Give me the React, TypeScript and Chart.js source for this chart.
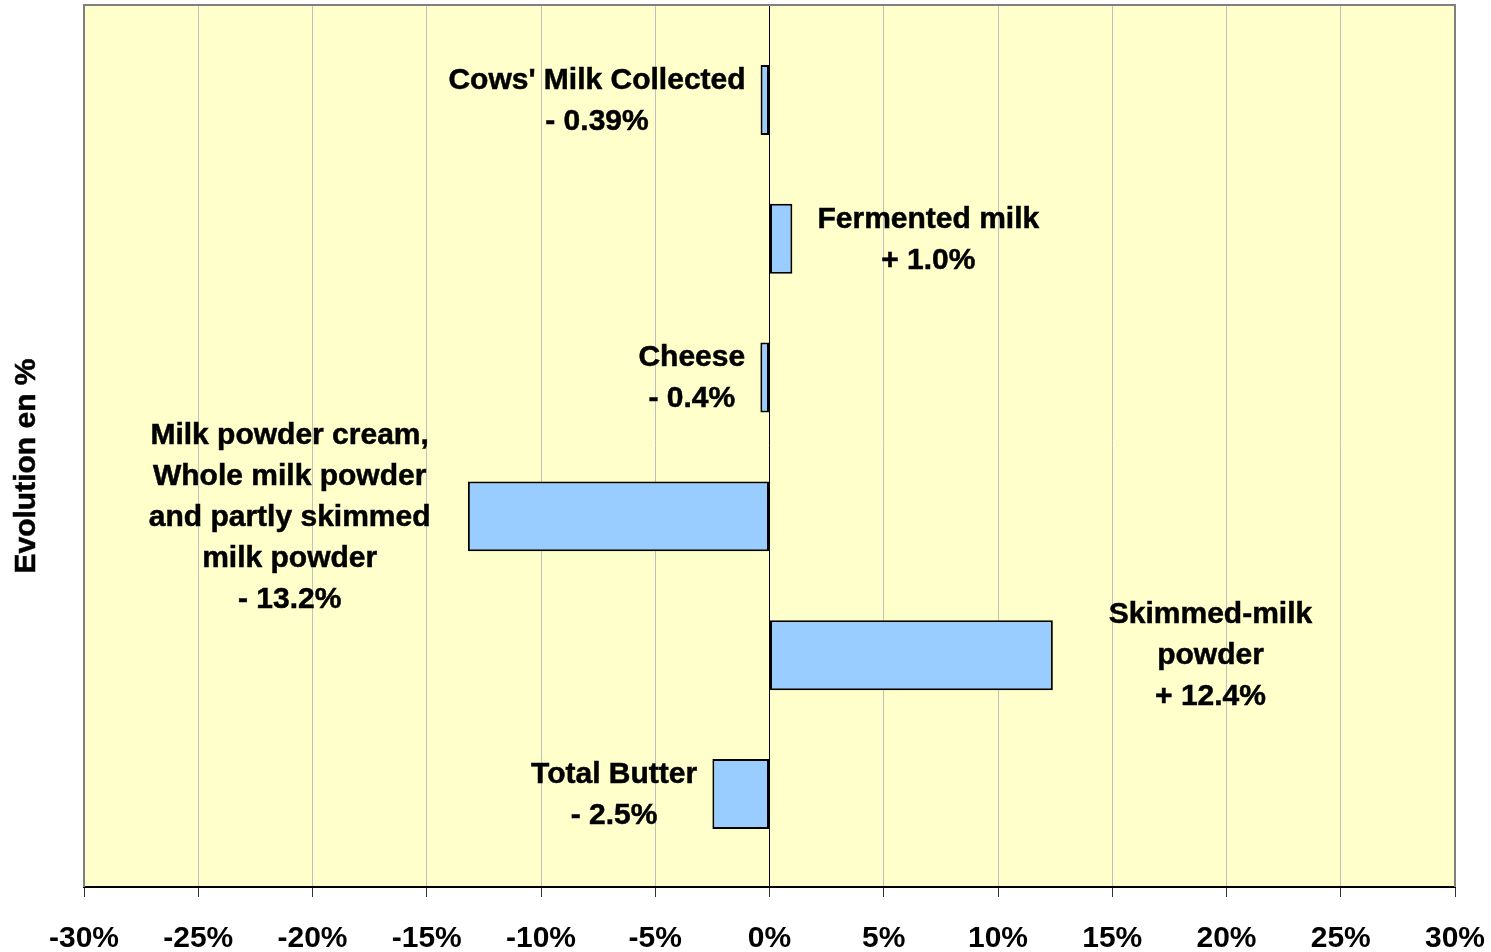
import React, { useEffect, useRef } from "react";
import { Chart, registerables } from "chart.js";

Chart.register(...registerables);

const categories = [
  "Cows' Milk Collected",
  "Fermented milk",
  "Cheese",
  "Milk powder cream, Whole milk powder and partly skimmed milk powder",
  "Skimmed-milk powder",
  "Total Butter",
];
const values = [-0.39, 1.0, -0.4, -13.2, 12.4, -2.5];
const labelLines = [
  ["Cows' Milk Collected", "- 0.39%"],
  ["Fermented milk", "+ 1.0%"],
  ["Cheese", "- 0.4%"],
  ["Milk powder cream,", "Whole milk powder", "and partly skimmed", "milk powder", "- 13.2%"],
  ["Skimmed-milk", "powder", "+ 12.4%"],
  ["Total Butter", "- 2.5%"],
];
// label block centre, in axis % units
const labelX = [-7.55, 6.95, -3.4, -21.0, 19.3, -6.8];
const tickValues = [-30, -25, -20, -15, -10, -5, 0, 5, 10, 15, 20, 25, 30];
const axisTitle = "Evolution en %";

const FONT = "'Liberation Sans', Arial, sans-serif";

export default function App() {
  const ref = useRef<HTMLCanvasElement | null>(null);

  useEffect(() => {
    document.body.style.margin = "0";
    const canvas = ref.current!;
    const bgPlugin = {
      id: "bgPlugin",
      beforeDraw(chart: any) {
        const { ctx, chartArea } = chart;
        ctx.save();
        ctx.fillStyle = "#FFFFCC";
        ctx.fillRect(chartArea.left, chartArea.top, chartArea.right - chartArea.left, chartArea.bottom - chartArea.top);
        ctx.restore();
      },
      afterDatasetsDraw(chart: any) {
        const { ctx, chartArea, scales } = chart;
        const xs = scales.x;
        const ys = scales.y;
        ctx.save();
        // plot border (top, left, right)
        ctx.strokeStyle = "#808080";
        ctx.lineWidth = 2;
        ctx.beginPath();
        ctx.moveTo(chartArea.left, chartArea.bottom);
        ctx.lineTo(chartArea.left, chartArea.top);
        ctx.lineTo(chartArea.right, chartArea.top);
        ctx.lineTo(chartArea.right, chartArea.bottom);
        ctx.stroke();
        // labels
        ctx.fillStyle = "#000";
        ctx.strokeStyle = "#000";
        ctx.lineWidth = 0.5;
        ctx.font = `bold 30px ${FONT}`;
        ctx.textAlign = "center";
        ctx.textBaseline = "middle";
        const lh = 41;
        labelLines.forEach((lines, i) => {
          const cx = xs.getPixelForValue(labelX[i]);
          const cy = ys.getPixelForValue(i);
          const start = cy - ((lines.length - 1) * lh) / 2;
          lines.forEach((t, j) => {
            ctx.fillText(t, cx, start + j * lh + 1);
            ctx.strokeText(t, cx, start + j * lh + 1);
          });
        });
        // axis title
        ctx.translate(27, 466);
        ctx.rotate(-Math.PI / 2);
        ctx.fillText(axisTitle, 0, 0);
        ctx.strokeText(axisTitle, 0, 0);
        ctx.restore();
      },
    };

    const chart = new Chart(canvas, {
      type: "bar",
      data: {
        datasets: [
          {
            label: "Evolution",
            data: values.map((v, i) => ({ x: v, y: i })),
            backgroundColor: "#99CCFF",
            borderColor: "#000000",
            borderWidth: 2,
            borderSkipped: false,
            categoryPercentage: 1,
            barPercentage: 0.504,
          } as any,
        ],
      },
      options: {
        indexAxis: "y",
        responsive: false,
        animation: false,
        events: [],
        layout: { padding: { left: 84, right: 36, top: 5, bottom: 0 } },
        plugins: { legend: { display: false }, tooltip: { enabled: false }, title: { display: false } },
        scales: {
          x: {
            type: "linear",
            min: -30,
            max: 30,
            afterBuildTicks: (scale: any) => {
              scale.ticks = tickValues.map((v) => ({ value: v }));
            },
            afterFit: (scale: any) => {
              scale.height = 65;
              scale.paddingLeft = 0;
              scale.paddingRight = 0;
            },
            ticks: {
              color: "#000",
              font: { family: FONT, size: 30, weight: "bold", lineHeight: 1 },
              padding: 27,
              maxRotation: 0,
              autoSkip: false,
              callback: (v: any) => `${v}%`,
            },
            grid: {
              color: (c: any) =>
                c.tick && c.tick.value === 0 ? "#000000" : "#C0C0C0",
              lineWidth: 1,
              tickLength: 10,
              tickColor: "#333333",
              drawOnChartArea: true,
            },
            border: { display: true, color: "#000000", width: 2 },
          },
          y: {
            type: "linear",
            reverse: true,
            offset: false,
            min: -0.684,
            max: 5.67,
            display: false,
            afterBuildTicks: (scale: any) => {
              scale.ticks = categories.map((_, i) => ({ value: i }));
            },
          },
        },
      } as any,
      plugins: [bgPlugin],
    });
    return () => chart.destroy();
  }, []);

  return <canvas ref={ref} width={1491} height={952} style={{ display: "block" }} />;
}
